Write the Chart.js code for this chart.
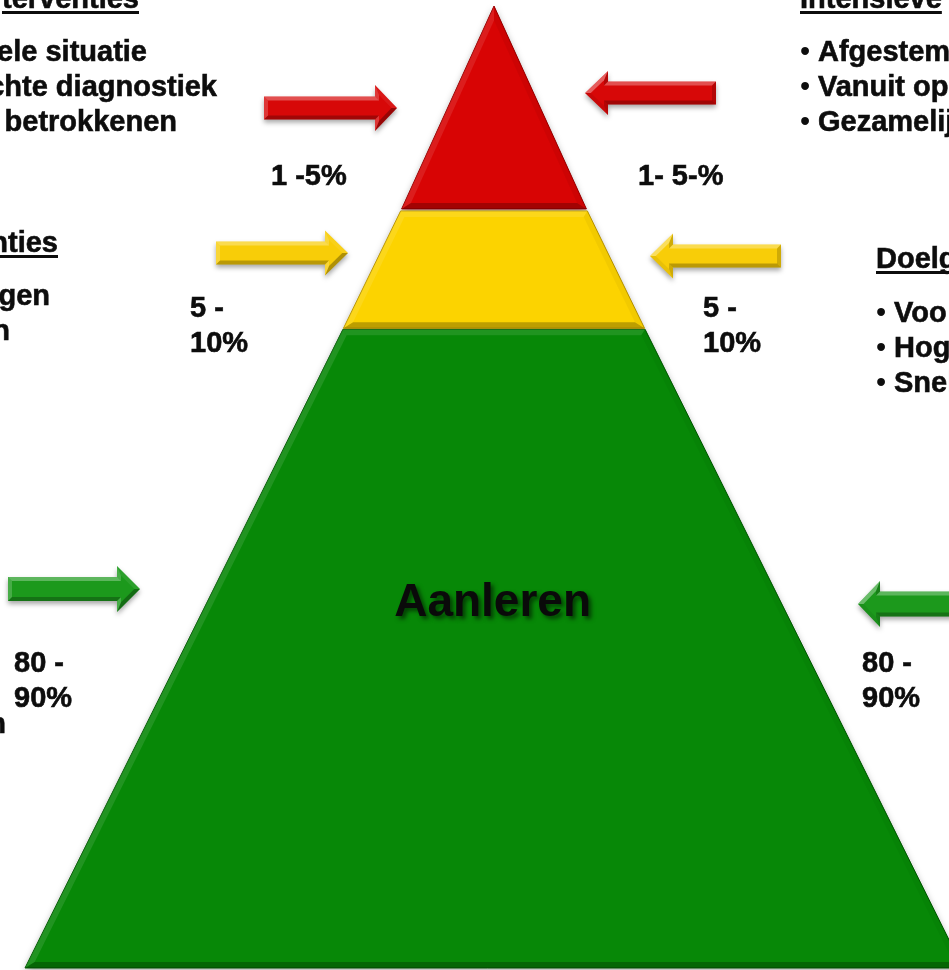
<!DOCTYPE html>
<html><head><meta charset="utf-8">
<script src="https://cdn.jsdelivr.net/npm/chart.js@4.4.1/dist/chart.umd.min.js"></script>
<style>html,body{margin:0;padding:0;background:#fff;overflow:hidden}canvas{display:block}</style>
</head><body>
<canvas id="c" width="949" height="970"></canvas>
<script>
// ---- data ----
const tierNames = ['Intensieve interventies', 'Doelgerichte interventies', 'Aanleren'];
const tierTop = [100, 78.7, 66.4];      // level (0 = base, 100 = apex)
const tierBottom = [78.9, 66.5, 0];
const shareLeft = ['1 -5%', '5 -|10%', '80 -|90%'];
const shareRight = ['1- 5-%', '5 -|10%', '80 -|90%'];
const leftTopHeading = 'terventies';
const leftTopLines = ['ele situatie', 'chte diagnostiek', 'betrokkenen'];
const leftMidHeading = 'nties';
const leftMidLines = ['gen', 'n'];
const leftLowLines = ['n'];
const rightTopHeading = 'Intensieve';
const rightTopLines = ['Afgestem', 'Vanuit op', 'Gezamelij'];
const rightMidHeading = 'Doelg';
const rightMidLines = ['Voo', 'Hog', 'Snel'];

// ---- styles / layout ----
const faceColors = ['#d80404', '#fcd300', '#078807'];
const edgeColors = ['#9a0000', '#b89400', '#045a04'];
const arrowColors = ['#d70808', '#f8cd08', '#1c991c'];
const INSET = 1.4;
const LX = -0.55, LY = -0.835;
const FONT = '"Liberation Sans", Arial, sans-serif';
const FS = 29;
const TXT = '#0d0d0d';
const arrows = [
  {tier:0, tail:264, tip:397, cy:108, sh:11.5, hh:23, hl:22},
  {tier:0, tail:716, tip:585, cy:93,  sh:11.5, hh:22, hl:23},
  {tier:1, tail:216, tip:348, cy:253, sh:11.5, hh:22.5, hl:23},
  {tier:1, tail:781, tip:650, cy:256, sh:11.5, hh:22.5, hl:23},
  {tier:2, tail:8,   tip:140, cy:589, sh:12,   hh:23, hl:23},
  {tier:2, tail:990, tip:858, cy:604, sh:12.5, hh:23, hl:22}
];
const shareLayout = [
  {l:[271,185], r:[638,185]},
  {l:[190,317], r:[703,317]},
  {l:[14,672],  r:[862,672]}
];

function hw(level){ return 100 - level; }
function tierPoints(i){
  const t = tierTop[i], b = tierBottom[i];
  const ib = b === 0 ? 0 : INSET;
  const ht = Math.max(0, hw(t) - INSET), hb = Math.max(0, hw(b) - ib);
  return [{x:-hb,y:b},{x:-ht,y:t},{x:ht,y:t},{x:hb,y:b},{x:-hb,y:b}];
}
function dedupe(P){
  const out=[];
  for(const p of P){ const l=out[out.length-1]; if(!l || Math.hypot(l[0]-p[0],l[1]-p[1])>0.5) out.push(p); }
  if(out.length>1){ const f=out[0], l=out[out.length-1]; if(Math.hypot(f[0]-l[0],f[1]-l[1])<0.5) out.pop(); }
  return out;
}
function insetPoly(P, d){
  const n=P.length; let A=0;
  for(let i=0;i<n;i++){ const q=P[(i+1)%n]; A += P[i][0]*q[1]-q[0]*P[i][1]; }
  const s = A>0?1:-1; const lines=[];
  for(let i=0;i<n;i++){
    const p=P[i], q=P[(i+1)%n]; let ex=q[0]-p[0], ey=q[1]-p[1]; const L=Math.hypot(ex,ey)||1; ex/=L; ey/=L;
    const nx = s>0 ? -ey : ey, ny = s>0 ? ex : -ex;
    lines.push({px:p[0]+nx*d, py:p[1]+ny*d, ex, ey, nx, ny});
  }
  const Q=[];
  for(let i=0;i<n;i++){
    const l1=lines[(i-1+n)%n], l2=lines[i];
    const det = l1.ex*l2.ey - l1.ey*l2.ex;
    if(Math.abs(det)<1e-9){ Q.push([l2.px,l2.py]); continue; }
    const t = ((l2.px-l1.px)*l2.ey - (l2.py-l1.py)*l2.ex)/det;
    Q.push([l1.px+l1.ex*t, l1.py+l1.ey*t]);
  }
  return {Q, lines};
}
function path(ctx, P){ ctx.beginPath(); ctx.moveTo(P[0][0],P[0][1]); for(let i=1;i<P.length;i++) ctx.lineTo(P[i][0],P[i][1]); ctx.closePath(); }
function bevel(ctx, P, d, kL, kD){
  const {Q, lines} = insetPoly(P, d); const n=P.length;
  for(let i=0;i<n;i++){
    const j=(i+1)%n, l=lines[i];
    const s = (-l.nx)*LX + (-l.ny)*LY;
    path(ctx, [P[i],P[j],Q[j],Q[i]]);
    ctx.fillStyle = s>0 ? 'rgba(255,255,255,'+(s*kL).toFixed(3)+')' : 'rgba(0,0,0,'+(-s*kD).toFixed(3)+')';
    ctx.fill();
  }
}
function tierPixels(chart, i){
  const xs=chart.scales.x, ys=chart.scales.y;
  return dedupe(tierPoints(i).map(p=>[xs.getPixelForValue(p.x), ys.getPixelForValue(p.y)]));
}
function arrowPoly(a){
  const dir = Math.sign(a.tip - a.tail), hx = a.tip - dir*a.hl;
  return [[a.tail,a.cy-a.sh],[hx,a.cy-a.sh],[hx,a.cy-a.hh],[a.tip,a.cy],[hx,a.cy+a.hh],[hx,a.cy+a.sh],[a.tail,a.cy+a.sh]];
}
function txt(ctx, s, x, y, align, size){
  ctx.font = 'bold '+size+'px '+FONT; ctx.textAlign = align; ctx.textBaseline='alphabetic';
  ctx.fillStyle = TXT; ctx.fillText(s, x, y);
  ctx.lineWidth = 0.6; ctx.strokeStyle = TXT; ctx.strokeText(s, x, y);
  return ctx.measureText(s).width;
}
function heading(ctx, s, x, y, align){
  const w = txt(ctx, s, x, y, align, FS);
  const x0 = align==='right' ? x-w : x;
  ctx.fillRect(x0, y+3, w, 3);
}
function bullet(ctx, s, x, y){
  ctx.font = FS+'px '+FONT; ctx.textAlign='left'; ctx.fillStyle=TXT; ctx.fillText('\u2022', x, y);
  txt(ctx, s, x+18, y, 'left', FS);
}

const decor = {
  id:'decor',
  beforeDatasetsDraw(chart){
    const ctx=chart.ctx;
    for(let i=tierNames.length-1;i>=0;i--){
      ctx.save();
      ctx.shadowColor='rgba(0,0,0,0.35)'; ctx.shadowBlur=7; ctx.shadowOffsetY=3;
      path(ctx, tierPixels(chart,i)); ctx.fillStyle=faceColors[i]; ctx.fill();
      ctx.restore();
    }
  },
  afterDatasetsDraw(chart){
    const ctx=chart.ctx;
    for(let i=0;i<tierNames.length;i++){
      ctx.save(); bevel(ctx, tierPixels(chart,i), 6, 0.12, 0.30); ctx.restore();
    }
    // tier label
    const xs=chart.scales.x, ys=chart.scales.y;
    ctx.save();
    ctx.shadowColor='rgba(0,0,0,0.55)'; ctx.shadowBlur=4; ctx.shadowOffsetX=3; ctx.shadowOffsetY=3;
    ctx.font='bold 46px '+FONT; ctx.textAlign='center'; ctx.textBaseline='alphabetic'; ctx.fillStyle='#0a0a0a';
    ctx.fillText(tierNames[2], xs.getPixelForValue(-0.3), ys.getPixelForValue(36.6));
    ctx.restore();
    // arrows
    for(const a of arrows){
      const P = arrowPoly(a);
      ctx.save();
      ctx.shadowColor='rgba(0,0,0,0.35)'; ctx.shadowBlur=5; ctx.shadowOffsetY=3;
      path(ctx,P); ctx.fillStyle=arrowColors[a.tier]; ctx.fill();
      ctx.restore();
      ctx.save(); bevel(ctx, P, 4, 0.35, 0.30); ctx.restore();
    }
    // share labels
    ctx.save();
    shareLayout.forEach((L,i)=>{
      shareLeft[i].split('|').forEach((s,k)=>txt(ctx, s, L.l[0], L.l[1]+k*35, 'left', FS));
      shareRight[i].split('|').forEach((s,k)=>txt(ctx, s, L.r[0], L.r[1]+k*35, 'left', FS));
    });
    // side texts
    heading(ctx, leftTopHeading, 139, 8, 'right');
    const ltR=[147,217,177];
    leftTopLines.forEach((s,k)=>txt(ctx, s, ltR[k], 61+k*35, 'right', FS));
    heading(ctx, leftMidHeading, 58, 252, 'right');
    const lmR=[50,10];
    leftMidLines.forEach((s,k)=>txt(ctx, s, lmR[k], 305+k*35, 'right', FS));
    leftLowLines.forEach((s,k)=>txt(ctx, s, 6, 733, 'right', FS));
    heading(ctx, rightTopHeading, 800, 8, 'left');
    rightTopLines.forEach((s,k)=>bullet(ctx, s, 800, 61+k*35));
    heading(ctx, rightMidHeading, 876, 268, 'left');
    rightMidLines.forEach((s,k)=>bullet(ctx, s, 876, 322+k*35));
    ctx.restore();
  }
};

new Chart(document.getElementById('c'), {
  type:'scatter',
  data:{ datasets: tierNames.map((n,i)=>({
    label:n, data:tierPoints(i), showLine:true, fill:'shape',
    backgroundColor:faceColors[i], borderColor:edgeColors[i], borderWidth:1,
    pointRadius:0, tension:0
  }))},
  options:{
    responsive:false, animation:false, devicePixelRatio:1, events:[],
    layout:{padding:0},
    plugins:{legend:{display:false}, tooltip:{enabled:false}},
    scales:{
      x:{type:'linear', display:false, min:-105.33, max:97.01},
      y:{type:'linear', display:false, min:-0.208, max:100.624}
    }
  },
  plugins:[decor]
});
</script>
</body></html>
